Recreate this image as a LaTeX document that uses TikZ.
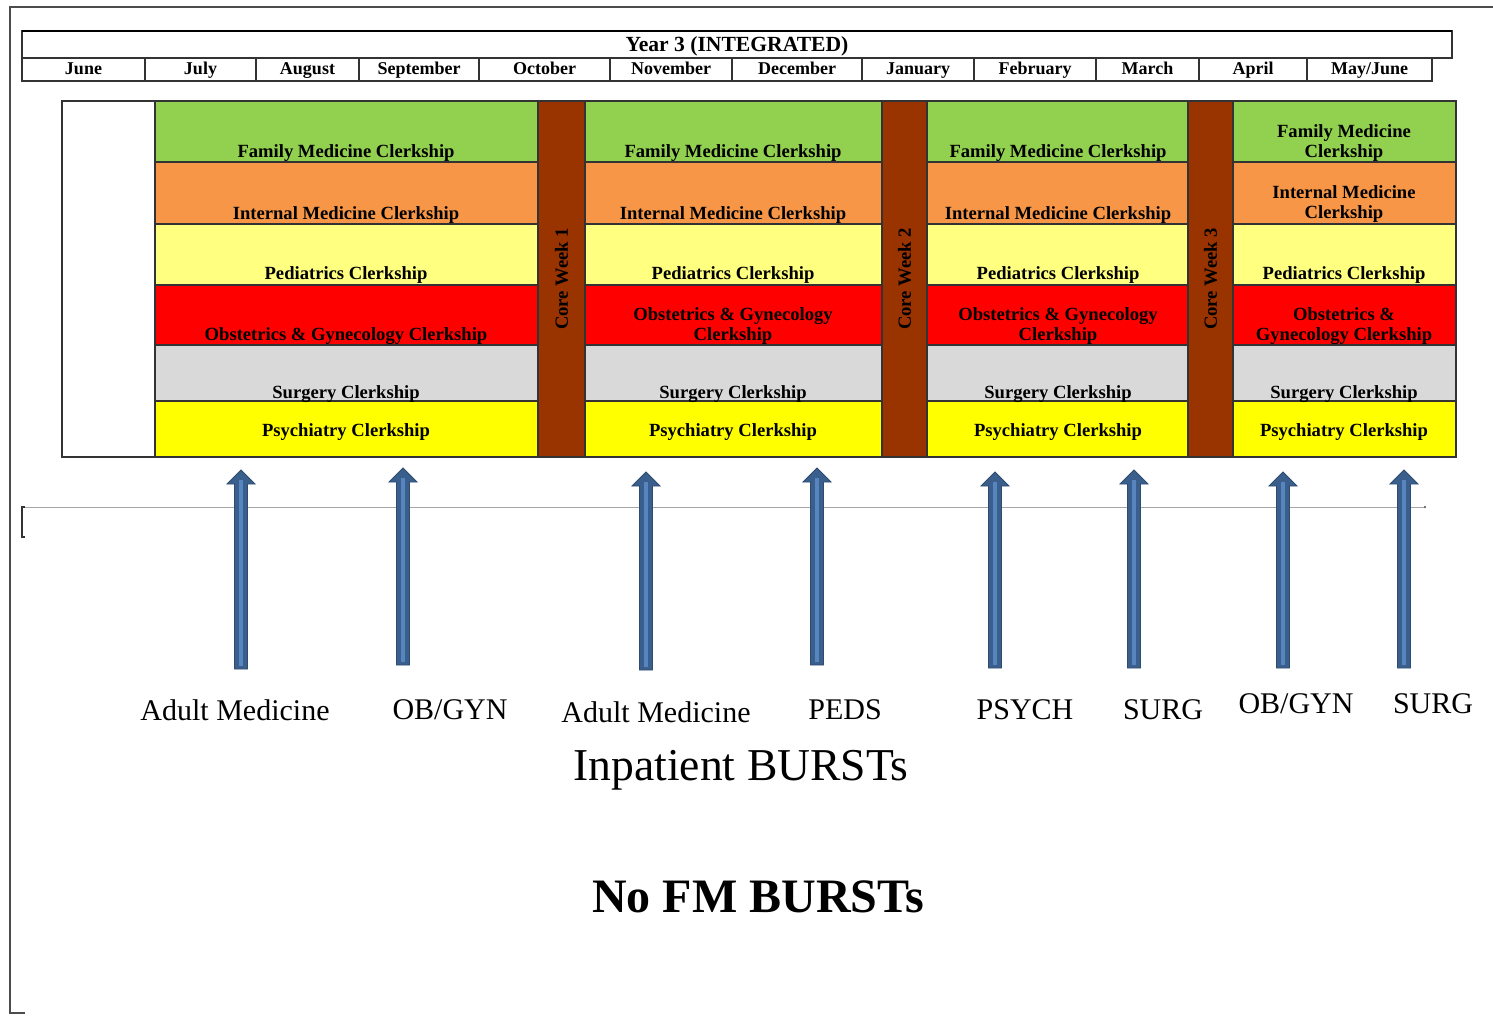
\documentclass[tikz,border=0pt]{standalone}
\usepackage{fontspec}
\setmainfont{Liberation Serif}
\usepackage{tikz}
\usetikzlibrary{positioning}
\definecolor{fmgreen}{RGB}{146,208,80}
\definecolor{imorange}{RGB}{247,150,70}
\definecolor{pedyellow}{RGB}{255,255,128}
\definecolor{obred}{RGB}{255,0,0}
\definecolor{surggrey}{RGB}{217,217,217}
\definecolor{psyyellow}{RGB}{255,255,0}
\definecolor{corebrown}{RGB}{153,51,0}
\definecolor{burstblue}{RGB}{58,95,140}
\definecolor{burstlight}{RGB}{86,133,192}
\tikzstyle{cell}=[draw=black!80, line width=0.6pt]
\tikzstyle{coreweek}=[font=\fontsize{9.3}{10.4}\selectfont\bfseries, inner sep=0pt, rotate=90]
\tikzstyle{clerk}=[font=\fontsize{9.3}{10.4}\selectfont\bfseries, align=center, inner sep=0pt, yshift=-1.5pt]
\tikzstyle{month}=[font=\fontsize{9}{10}\selectfont\bfseries, inner sep=0pt, anchor=base]
\tikzstyle{burst}=[font=\fontsize{15}{18}\selectfont, inner sep=0pt]

\begin{document}
\begin{tikzpicture}[x=0.5pt, y=-0.5pt]
        \useasboundingbox (0,0) rectangle (1493,1016);
        % page frame
        \draw[black!70, line width=1.2pt] (1493,7) -- (10,7) -- (10,1013) -- (25,1013);
        % header
        \draw[cell] (22,31) rectangle (1452,58);
        \draw[black, line width=1.2pt] (22,31) -- (1452,31);
        \node[month, font=\fontsize{10.8}{12}\selectfont\bfseries] (year) at (737,52) {Year 3 (INTEGRATED)};
        \foreach \a/\b/\m [count=\i] in {22/145/June, 145/256/July, 256/359/August, 359/479/September,
                479/610/October, 610/732/November, 732/862/December, 862/974/January,
                974/1096/February, 1096/1199/March, 1199/1307/April, 1307/1432/{May/June}} {
            \draw[cell] (\a,58) rectangle (\b,81);
            \node[month] (m\i) at ({(\a+\b)/2},75) {\m};
        }
        % clerkship blocks
        \draw[cell, fill=white] (62,101) rectangle (155,457);
        \foreach \ya/\yb/\col in {101/162/fmgreen, 162/224/imorange, 224/285/pedyellow,
                285/345/obred, 345/401/surggrey, 401/457/psyyellow} {
            \foreach \xa/\xb in {155/538, 585/882, 927/1188, 1233/1456}
                \draw[cell, fill=\col] (\xa,\ya) rectangle (\xb,\yb);
        }
        \foreach \xa/\xb/\k in {538/585/1, 882/927/2, 1188/1233/3} {
            \draw[cell, fill=corebrown] (\xa,101) rectangle (\xb,457);
            \node[coreweek] (core\k) at ({(\xa+\xb)/2},279) {Core Week \k};
        }
        \node[clerk] (fm1) at (346,150) {Family Medicine Clerkship};
        \node[clerk] (im1) at (346,212) {Internal Medicine Clerkship};
        \node[clerk] (peds1) at (346,272) {Pediatrics Clerkship};
        \node[clerk] (ob1) at (346,333) {Obstetrics \& Gynecology Clerkship};
        \node[clerk] (surg1) at (346,391) {Surgery Clerkship};
        \node[clerk] (psych1) at (346,429) {Psychiatry Clerkship};
        \node[clerk] (fm2) at (733,150) {Family Medicine Clerkship};
        \node[clerk] (im2) at (733,212) {Internal Medicine Clerkship};
        \node[clerk] (peds2) at (733,272) {Pediatrics Clerkship};
        \node[clerk] (ob2) at (733,323) {Obstetrics \& Gynecology\\Clerkship};
        \node[clerk] (surg2) at (733,391) {Surgery Clerkship};
        \node[clerk] (psych2) at (733,429) {Psychiatry Clerkship};
        \node[clerk] (fm3) at (1058,150) {Family Medicine Clerkship};
        \node[clerk] (im3) at (1058,212) {Internal Medicine Clerkship};
        \node[clerk] (peds3) at (1058,272) {Pediatrics Clerkship};
        \node[clerk] (ob3) at (1058,323) {Obstetrics \& Gynecology\\Clerkship};
        \node[clerk] (surg3) at (1058,391) {Surgery Clerkship};
        \node[clerk] (psych3) at (1058,429) {Psychiatry Clerkship};
        \node[clerk] (fm4) at (1344,140) {Family Medicine\\Clerkship};
        \node[clerk] (im4) at (1344,201) {Internal Medicine\\Clerkship};
        \node[clerk] (peds4) at (1344,272) {Pediatrics Clerkship};
        \node[clerk] (ob4) at (1344,323) {Obstetrics \&\\Gynecology Clerkship};
        \node[clerk] (surg4) at (1344,391) {Surgery Clerkship};
        \node[clerk] (psych4) at (1344,429) {Psychiatry Clerkship};
        % rule under the table
        \draw[black!35, line width=0.5pt] (22,507) -- (1425,507);
        \draw[black!80, line width=0.8pt] (25,507) -- (22,507) -- (22,537) -- (25,537);
        \fill[black!70] (1425,507) circle (1.2);
        % burst arrows
        \foreach \x/\t/\b in {241/470/669, 403/468/665, 646/472/670, 817/468/665,
                995/472/668, 1134/470/668, 1283/472/668, 1404/470/668} {
            \draw[burstblue!80!black, fill=burstblue, line width=0.4pt]
                (\x-6.5,\b) -- (\x-6.5,\t+14) -- (\x-14,\t+14) -- (\x,\t)
                -- (\x+14,\t+14) -- (\x+6.5,\t+14) -- (\x+6.5,\b) -- cycle;
            \fill[burstlight] (\x-1.6,\t+10) rectangle (\x+1.6,\b-3);
        }
        \node[burst] (adult1) at (235,710) {Adult Medicine};
        \node[burst] (obgyn1) at (450,710) {OB/GYN};
        \node[burst] (adult2) at (656,712) {Adult Medicine};
        \node[burst] (peds) at (845,710) {PEDS};
        \node[burst] (psych) at (1025,710) {PSYCH};
        \node[burst] (surg1) at (1163,710) {SURG};
        \node[burst] (obgyn2) at (1296,704) {OB/GYN};
        \node[burst] (surg2) at (1433,704) {SURG};
        \node[inner sep=0pt, font=\fontsize{22.8}{27}\selectfont] (inpatient) at (741,770) {Inpatient BURSTs};
        \node[inner sep=0pt, font=\fontsize{24}{29}\selectfont\bfseries] (nofm) at (758,897) {No FM BURSTs};
    \end{tikzpicture}
\end{document}
